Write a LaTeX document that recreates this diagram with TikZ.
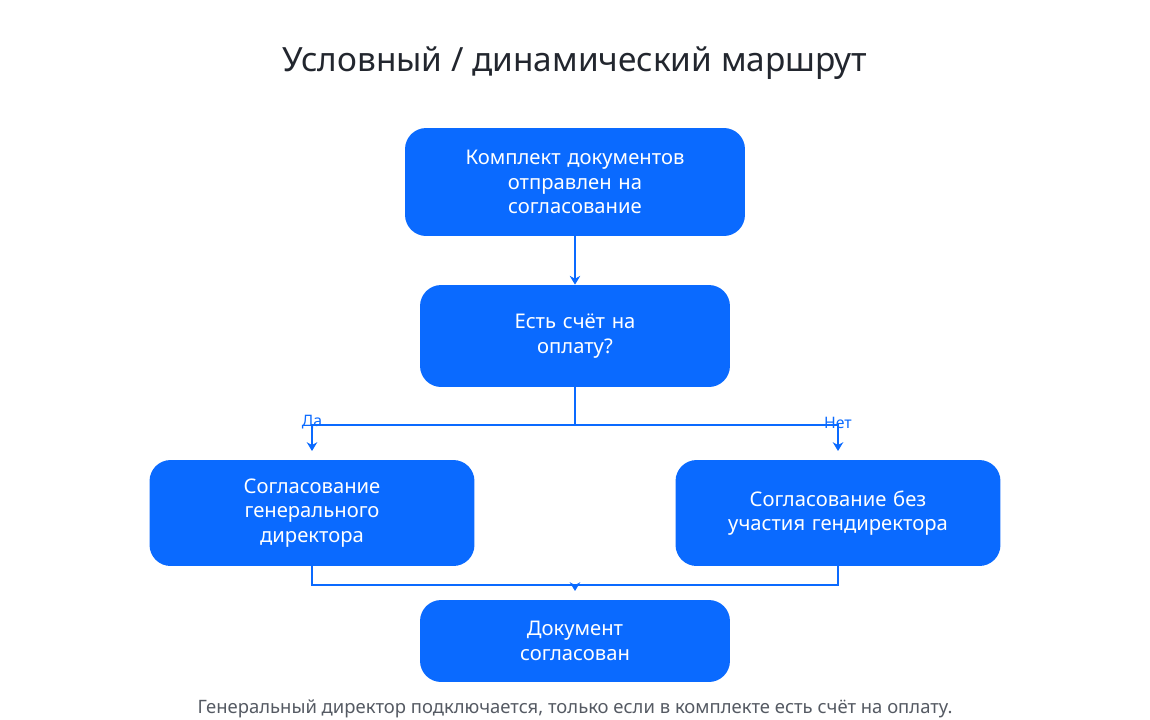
\documentclass[tikz,border=0pt]{standalone}
\usepackage{fontspec}
\setmainfont{Noto Sans}
\usetikzlibrary{arrows.meta}
\usetikzlibrary{positioning}
\definecolor{boxblue}{HTML}{0A6AFF}
\definecolor{titlegray}{HTML}{22262E}
\definecolor{notegray}{HTML}{555A63}
\tikzstyle{stage} = [rectangle, rounded corners=12pt, text centered, fill=boxblue, text=white, font=\fontsize{11.5}{14}\selectfont\bfseries]
\tikzstyle{arrow} = [draw=boxblue, line width=0.9pt, -{Stealth[length=5pt,width=6pt]}]
\tikzstyle{line} = [draw=boxblue, line width=0.9pt]

\begin{document}
\begin{tikzpicture}[x=0.02cm, y=-0.02cm]
\useasboundingbox (0,0) rectangle (1150,720);
\node (title) [font=\fontsize{19}{22}\selectfont, text=titlegray] at (575,63) {Условный / динамический маршрут};

\node (s1) [stage, minimum width=6.8cm, minimum height=2.16cm, text width=6cm] at (575,182) {Комплект документов\\отправлен на\\согласование};
\node (s2) [stage, minimum width=6.2cm, minimum height=2.04cm, text width=5.6cm] at (575,336) {Есть счёт на\\оплату?};
\node (s3) [stage, minimum width=6.5cm, minimum height=2.12cm, text width=6cm] at (312,513) {Согласование\\генерального\\директора};
\node (s4) [stage, minimum width=6.5cm, minimum height=2.12cm, text width=6cm] at (838,513) {Согласование без\\участия гендиректора};
\node (s5) [stage, minimum width=6.2cm, minimum height=1.64cm, text width=5.6cm] at (575,641) {Документ\\согласован};

\node (note) [font=\fontsize{10.5}{12}\selectfont, text=notegray] at (575,709) {Генеральный директор подключается, только если в комплекте есть счёт на оплату.};

\coordinate (split) at (575,425);
\coordinate (join) at (575,585);
\coordinate (in3) at (312,451);
\coordinate (in4) at (838,451);
\coordinate (in5) at (575,591);

\draw [arrow] (s1) -- (s2);
\draw [line] (s2.south) -- (split);
\draw [arrow] (split) -| node[pos=0.7, above, font=\fontsize{9}{10}\selectfont, text=boxblue] {Да} (in3);
\draw [arrow] (split) -| node[pos=0.7, above, font=\fontsize{9}{10}\selectfont, text=boxblue] {Нет} (in4);

\draw [line] (s3.south) |- (join);
\draw [line] (s4.south) |- (join);
\draw [arrow] (join) -- (in5);
\end{tikzpicture}
\end{document}
